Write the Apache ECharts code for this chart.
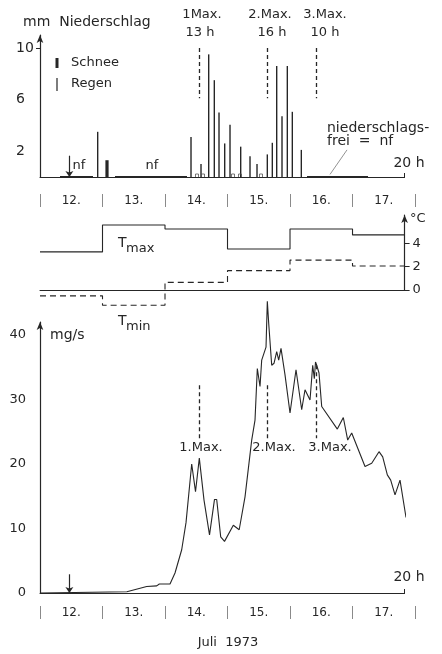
<!DOCTYPE html>
<html><head><meta charset="utf-8">
<script src="https://cdn.jsdelivr.net/npm/echarts@6/dist/echarts.min.js"></script>
<style>html,body{margin:0;padding:0;background:#fff}#c{width:442px;height:654px}</style>
</head><body><div id="c"></div>
<script>
// ---- data ----
const days = ['12.', '13.', '14.', '15.', '16.', '17.'];
const dayStarts = [12, 13, 14, 15, 16, 17];
const endTime = 17 + 20 / 24;
const rainTimes = [12.923, 14.416, 14.576, 14.699, 14.789, 14.864, 14.955, 15.04, 15.211, 15.36, 15.472, 15.637, 15.717, 15.787, 15.872, 15.957, 16.037, 16.181];
const rainValues = [3.5, 3.1, 1.0, 9.5, 7.5, 5.0, 2.6, 4.05, 2.35, 1.6, 1.0, 1.75, 2.65, 8.6, 4.7, 8.6, 5.05, 2.1];
const snowTimes = [13.072];
const snowValues = [1.3];
const traceTimes = [14.512, 14.608, 15.088, 15.2, 15.536];
const nfStart = [12.32, 13.2, 16.272];
const nfEnd = [12.848, 14.352, 17.248];
const tMax = [3.25, 5.55, 5.2, 3.5, 5.2, 4.7];
const tMin = [-0.5, -1.3, 0.65, 1.65, 2.55, 2.05];
const sedTimes = [12.0, 13.39, 13.707, 13.867, 13.909, 14.08, 14.16, 14.267, 14.336, 14.427, 14.488, 14.549, 14.624, 14.712, 14.792, 14.827, 14.891, 14.952, 15.093, 15.187, 15.28, 15.387, 15.44, 15.477, 15.52, 15.547, 15.616, 15.637, 15.659, 15.707, 15.744, 15.787, 15.819, 15.856, 15.92, 16.0, 16.096, 16.187, 16.24, 16.32, 16.363, 16.389, 16.408, 16.427, 16.464, 16.507, 16.757, 16.853, 16.923, 16.987, 17.2, 17.307, 17.333, 17.424, 17.483, 17.557, 17.611, 17.68, 17.76, 17.856];
const sedValues = [0, 0.2, 1.0, 1.1, 1.4, 1.4, 3.1, 6.7, 10.9, 20.0, 15.7, 20.9, 14.4, 9.0, 14.5, 14.5, 8.7, 8.0, 10.5, 9.8, 14.9, 23.7, 26.8, 34.8, 32.0, 36.1, 38.1, 45.2, 41.8, 35.3, 35.6, 37.4, 36.1, 37.9, 33.8, 27.9, 34.6, 28.4, 31.5, 29.9, 35.3, 33.2, 35.8, 35.3, 34.1, 28.9, 25.4, 27.2, 23.7, 24.8, 19.6, 20.1, 19.9, 21.9, 21.1, 18.3, 17.5, 15.2, 17.5, 11.7];
const maxTimes = [14.545, 15.64, 16.415];
const precipMaxTop = 10, precipMaxBottom = 6.1;
const sedMaxTop = [32.2, 32.2, 35.3];
const sedMaxBottom = 24;
const arrowTime = 12.47;
const precipTicks = [2, 6, 10];
const tempTicks = [0, 2, 4];
const sedTicks = [0, 10, 20, 30, 40];
const leaderFrom = [16.912, 2.1];
const leaderTo = [16.64, 0.2];

// ---- chart ----
const FONT = 'DejaVu Sans';
const INK = '#262626';
const chart = echarts.init(document.getElementById('c'), null, {renderer: 'canvas', width: 442, height: 654});

function tx(text, x, y, size, align, extra) {
  return {type: 'text', x: x, y: y, silent: true,
    style: Object.assign({text: text, fontSize: size, fontFamily: FONT, fill: INK, align: align || 'left', verticalAlign: 'middle'}, extra || {})};
}
function stepPoints(vals) {
  const pts = [];
  vals.forEach((v, i) => {
    pts.push([dayStarts[i], v]);
    pts.push([i < vals.length - 1 ? dayStarts[i + 1] : endTime, v]);
  });
  return pts;
}
function barRenderer(width) {
  return function (params, api) {
    const x = api.value(0), v = api.value(1);
    const p0 = api.coord([x, 0]), p1 = api.coord([x, v]);
    return {type: 'rect', shape: {x: p0[0] - width / 2, y: p1[1], width: width, height: p0[1] - p1[1]}, style: {fill: INK}};
  };
}
const valX = (grid, tick) => ({
  type: 'value', gridIndex: grid, min: 12, max: endTime,
  axisLine: {show: true, onZero: false, lineStyle: {color: INK, width: 1}},
  axisTick: tick ? {show: true, customValues: [endTime], inside: true, length: 4, lineStyle: {color: INK}} : {show: false},
  axisLabel: {show: false}, splitLine: {show: false}
});
const dayX = (grid) => ({
  type: 'category', gridIndex: grid, data: days, boundaryGap: true, position: 'bottom',
  axisLine: {show: false},
  axisTick: {show: true, length: 13, lineStyle: {color: '#8a8a8a', width: 1}},
  axisLabel: {margin: 1, fontSize: 12, color: INK, fontFamily: FONT},
  splitLine: {show: false}
});
const dash = {color: INK, width: 1.3, type: [4, 3]};

const nfSeries = nfStart.map((s, i) => ({
  type: 'line', xAxisIndex: 0, yAxisIndex: 0, data: [[s, 0], [nfEnd[i], 0]],
  symbol: 'none', lineStyle: {color: INK, width: 2}, silent: true,
  markLine: i === 0 ? {
    silent: true, symbol: ['none', 'none'], label: {show: false},
    data: maxTimes.map(t => [{coord: [t, precipMaxTop], lineStyle: dash}, {coord: [t, precipMaxBottom]}])
      .concat([[{coord: [arrowTime, 1.65], lineStyle: {color: INK, width: 1.2, type: 'solid'}}, {coord: [arrowTime, 0], symbol: 'arrow', symbolSize: 6}]])
      .concat([[{coord: leaderFrom, lineStyle: {color: '#777', width: 0.8, type: 'solid'}}, {coord: leaderTo}]])
  } : undefined
}));

const option = {
  backgroundColor: '#ffffff',
  animation: false,
  grid: [
    {left: 40, top: 35, width: 364.6, height: 142},
    {left: 40, top: 215, width: 364.6, height: 75},
    {left: 40, top: 322, width: 364.6, height: 271},
    {left: 40, top: 193, width: 375, height: 1},
    {left: 40, top: 605, width: 375, height: 1}
  ],
  xAxis: [valX(0, true), valX(1, false), valX(2, true), dayX(3), dayX(4)],
  yAxis: [
    {type: 'value', gridIndex: 0, min: 0, max: 11,
      axisLine: {show: true, symbol: ['none', 'arrow'], symbolSize: [5, 8], lineStyle: {color: INK, width: 1.2}},
      axisTick: {show: true, customValues: [10], length: 4, lineStyle: {color: INK}},
      axisLabel: {customValues: precipTicks, align: 'left', margin: 24, fontSize: 14, color: INK, fontFamily: FONT},
      splitLine: {show: false}},
    {type: 'value', gridIndex: 1, position: 'right', min: 0, max: 6.4,
      axisLine: {show: true, symbol: ['none', 'arrow'], symbolSize: [5, 8], lineStyle: {color: INK, width: 1.2}},
      axisTick: {show: true, customValues: tempTicks, length: 5, lineStyle: {color: INK}},
      axisLabel: {customValues: tempTicks, margin: 8, fontSize: 13, color: INK, fontFamily: FONT},
      splitLine: {show: false}},
    {type: 'value', gridIndex: 2, min: 0, max: 42,
      axisLine: {show: true, symbol: ['none', 'arrow'], symbolSize: [5, 8], lineStyle: {color: INK, width: 1.2}},
      axisTick: {show: false},
      axisLabel: {customValues: sedTicks, margin: 14, fontSize: 13, color: INK, fontFamily: FONT},
      splitLine: {show: false}},
    {type: 'value', gridIndex: 3, show: false},
    {type: 'value', gridIndex: 4, show: false}
  ],
  series: [
    {type: 'custom', xAxisIndex: 0, yAxisIndex: 0, renderItem: barRenderer(1.4), silent: true,
      data: rainTimes.map((t, i) => [t, rainValues[i]])},
    {type: 'custom', xAxisIndex: 0, yAxisIndex: 0, renderItem: barRenderer(3.2), silent: true,
      data: snowTimes.map((t, i) => [t, snowValues[i]])},
    {type: 'custom', xAxisIndex: 0, yAxisIndex: 0, silent: true,
      renderItem: function (params, api) {
        const p = api.coord([api.value(0), 0]);
        return {type: 'polyline', shape: {points: [[p[0] - 1.5, p[1]], [p[0] - 1.5, p[1] - 3], [p[0] + 1.5, p[1] - 3], [p[0] + 1.5, p[1]]]},
          style: {stroke: '#555', fill: null, lineWidth: 0.8}};
      },
      data: traceTimes.map(t => [t, 0])}
  ].concat(nfSeries).concat([
    {type: 'line', xAxisIndex: 1, yAxisIndex: 1, data: stepPoints(tMax), symbol: 'none', clip: false, silent: true,
      lineStyle: {color: INK, width: 1.1}},
    {type: 'line', xAxisIndex: 1, yAxisIndex: 1, data: stepPoints(tMin), symbol: 'none', clip: false, silent: true,
      lineStyle: {color: INK, width: 1.1, type: [6, 4]}},
    {type: 'line', xAxisIndex: 2, yAxisIndex: 2, data: sedTimes.map((t, i) => [t, sedValues[i]]), symbol: 'none', clip: false, silent: true,
      lineStyle: {color: INK, width: 1.1},
      markLine: {
        silent: true, symbol: ['none', 'none'], label: {show: false},
        data: maxTimes.map((t, i) => [{coord: [t, sedMaxTop[i]], lineStyle: dash}, {coord: [t, sedMaxBottom]}])
          .concat([[{coord: [arrowTime, 2.9], lineStyle: {color: INK, width: 1.2, type: 'solid'}}, {coord: [arrowTime, 0], symbol: 'arrow', symbolSize: 6}]])
      }}
  ]),
  graphic: [
    tx('mm  Niederschlag', 23, 22, 14),
    {type: 'rect', silent: true, shape: {x: 55.5, y: 58, width: 3, height: 10}, style: {fill: INK}},
    {type: 'rect', silent: true, shape: {x: 56.4, y: 78, width: 1.2, height: 13}, style: {fill: INK}},
    tx('Schnee', 71, 63, 13),
    tx('Regen', 71, 84, 13),
    tx('1Max.', 202, 15, 13, 'center'),
    tx('13 h', 200, 33, 13, 'center'),
    tx('2.Max.', 270, 15, 13, 'center'),
    tx('16 h', 272, 33, 13, 'center'),
    tx('3.Max.', 325, 15, 13, 'center'),
    tx('10 h', 325, 33, 13, 'center'),
    tx('nf', 79, 166, 13, 'center'),
    tx('nf', 152, 166, 13, 'center'),
    tx('niederschlags-', 327, 128, 14),
    tx('frei  =  nf', 327, 141, 14),
    tx('20 h', 409, 163, 14, 'center'),
    tx('°C', 410, 219, 13),
    tx('T', 118, 243, 14),
    tx('max', 126, 249, 13),
    tx('T', 118, 321, 14),
    tx('min', 126, 327, 13),
    tx('mg/s', 50, 335, 14),
    tx('1.Max.', 201, 448, 13, 'center'),
    tx('2.Max.', 274, 448, 13, 'center'),
    tx('3.Max.', 330, 448, 13, 'center'),
    tx('20 h', 409, 577, 14, 'center'),
    tx('Juli  1973', 228, 643, 13, 'center')
  ]
};
chart.setOption(option);
</script>
</body></html>
